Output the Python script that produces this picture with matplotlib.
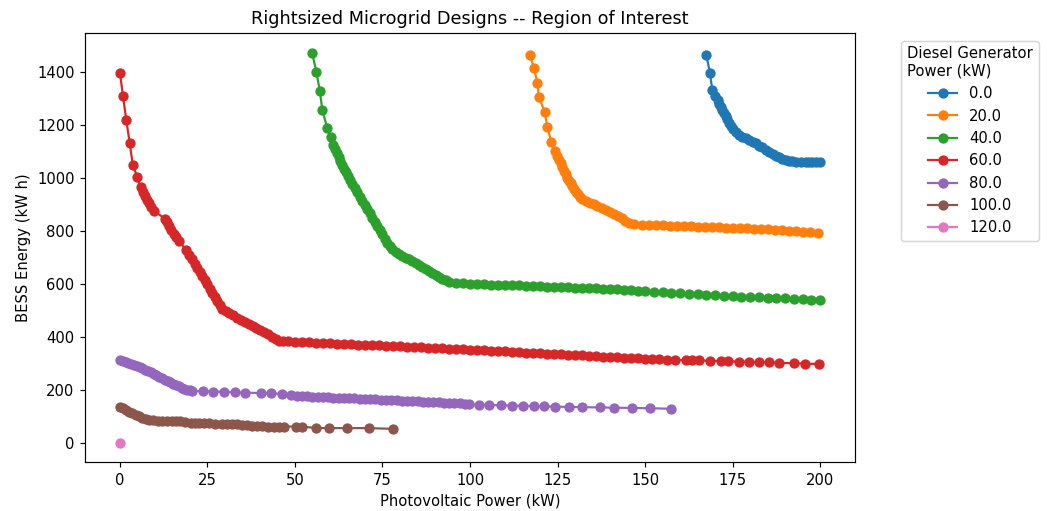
import matplotlib
matplotlib.use("Agg")
import matplotlib.pyplot as plt

# diesel generator sizes (kW), one curve per size
dg_power = [0.0, 20.0, 40.0, 60.0, 80.0, 100.0, 120.0]

# photovoltaic power (kW) / BESS energy (kW h)
pv_0 = [167.5, 168.5, 169.2, 170.0, 170.7, 171.2, 171.6, 172.1, 172.6, 173.1, 173.5, 174.0,
        174.5, 175.2, 175.9, 176.8, 177.8, 178.8, 179.7, 180.7, 181.6, 182.6, 183.5, 184.5,
        185.4, 186.4, 187.3, 188.3, 189.2, 190.2, 191.1, 192.0, 193.2, 194.5, 195.9, 196.8,
        197.8, 198.9, 200.0]
bess_0 = [1464, 1396, 1332, 1310, 1294, 1280, 1266, 1256, 1245, 1234, 1222, 1208,
          1194, 1183, 1172, 1163, 1155, 1149, 1143, 1137, 1130, 1122, 1115, 1106,
          1098, 1090, 1083, 1077, 1071, 1066, 1062, 1062, 1061, 1060, 1060, 1060,
          1060, 1060, 1061]

pv_20 = [117.1, 118.3, 119.2, 119.7, 121.3, 122.1, 123.2, 124.2, 124.9, 125.4, 125.9, 126.4,
         126.9, 127.4, 127.8, 128.3, 128.8, 129.2, 129.7, 130.3, 130.9, 131.5, 132.1, 133.2,
         134.3, 135.4, 136.4, 137.6, 138.8, 139.9, 141.1, 142.2, 143.3, 144.4, 145.4, 146.9,
         149.0, 151.0, 153.0, 155.0, 157.0, 159.0, 161.0, 163.0, 165.0, 167.0, 169.0, 171.0,
         173.0, 175.0, 177.0, 179.0, 181.0, 183.0, 185.0, 187.0, 189.0, 191.0, 193.0, 195.0,
         197.0, 199.5]
bess_20 = [1462, 1414, 1358, 1304, 1250, 1191, 1136, 1102, 1081, 1068, 1056, 1041,
           1027, 1014, 1001, 990, 980, 968, 957, 947, 938, 928, 919, 913,
           907, 901, 894, 887, 879, 871, 863, 855, 847, 839, 831, 825,
           824, 823, 822, 821, 820, 819, 818, 817, 816, 815, 814, 813,
           812, 811, 810, 809, 808, 807, 806, 805, 803, 801, 799, 797,
           794, 791]

pv_40 = [54.9, 56.1, 57.1, 57.8, 59.2, 60.2, 60.9, 61.5, 62.1, 62.6, 63.0, 63.5,
         64.0, 64.6, 65.2, 65.8, 66.4, 67.1, 67.8, 68.5, 69.2, 69.9, 70.7, 71.4,
         72.1, 72.8, 73.5, 74.2, 74.9, 75.6, 76.4, 77.1, 77.8, 78.8, 79.7, 80.7,
         81.6, 82.6, 83.5, 84.5, 85.4, 86.4, 87.3, 88.3, 89.2, 90.2, 91.1, 92.1,
         93.0, 94.0, 95.9, 98.0, 100.0, 102.0, 104.0, 106.0, 108.0, 110.0, 112.0, 114.0,
         116.0, 118.0, 120.0, 122.0, 124.0, 126.0, 128.0, 130.0, 132.0, 134.0, 136.0, 138.0,
         140.0, 142.0, 144.0, 146.0, 148.0, 150.0, 152.5, 155.0, 157.5, 160.0, 162.5, 165.0,
         167.5, 170.0, 172.5, 175.0, 177.5, 180.0, 182.5, 185.0, 187.5, 190.0, 192.5, 195.0,
         197.5, 200.0]
bess_40 = [1472, 1401, 1328, 1257, 1188, 1153, 1124, 1108, 1093, 1078, 1064, 1050,
           1035, 1022, 1008, 992, 976, 960, 945, 929, 913, 898, 882, 866,
           850, 834, 818, 803, 787, 771, 756, 743, 730, 720, 711, 705,
           698, 692, 686, 678, 670, 663, 655, 648, 641, 634, 627, 620,
           614, 607, 604, 602, 600, 599, 598, 597, 597, 596, 595, 594,
           593, 592, 591, 590, 589, 588, 587, 586, 585, 584, 583, 582,
           580, 579, 578, 576, 574, 573, 571, 569, 567, 565, 563, 561,
           559, 557, 555, 553, 552, 551, 549, 548, 546, 545, 543, 542,
           541, 541]

pv_60 = [0.0, 0.9, 1.8, 2.8, 3.7, 4.9, 5.9, 6.6, 7.1, 7.7, 8.3, 9.0,
         9.7, 12.9, 13.5, 14.0, 14.7, 15.4, 16.1, 16.9, 18.9, 19.6, 20.7, 21.4,
         22.1, 22.8, 23.5, 24.2, 24.9, 25.6, 26.4, 27.1, 27.8, 28.5, 29.2, 30.2,
         31.3, 32.4, 33.5, 34.6, 35.7, 36.8, 37.9, 39.0, 40.1, 41.2, 42.3, 43.4,
         44.5, 45.4, 46.5, 48.0, 50.0, 52.0, 54.0, 56.0, 58.0, 60.0, 62.0, 64.0,
         66.0, 68.0, 70.0, 72.0, 74.0, 76.0, 78.0, 80.0, 82.0, 84.0, 86.0, 88.0,
         90.0, 92.0, 94.0, 96.0, 98.0, 100.0, 102.0, 104.0, 106.0, 108.0, 110.0, 112.0,
         114.0, 116.0, 118.0, 120.0, 122.0, 124.0, 126.0, 128.0, 130.0, 132.0, 134.0, 136.0,
         138.0, 140.0, 142.0, 144.0, 146.0, 148.0, 150.0, 152.0, 154.0, 156.4, 158.6, 161.6,
         163.5, 165.4, 168.5, 171.6, 173.8, 176.7, 179.7, 182.6, 185.4, 188.3, 192.6, 195.7,
         199.7]
bess_60 = [1396, 1308, 1220, 1131, 1048, 1005, 964, 948, 932, 918, 904, 890,
           875, 846, 832, 818, 803, 787, 775, 762, 728, 710, 692, 676,
           661, 645, 629, 614, 598, 582, 566, 551, 535, 520, 506, 496,
           489, 481, 473, 465, 458, 450, 442, 434, 426, 418, 410, 401,
           392, 385, 384, 383, 382, 381, 380, 378, 377, 376, 375, 374,
           373, 371, 370, 369, 368, 367, 366, 364, 363, 362, 361, 360,
           358, 357, 356, 355, 354, 352, 351, 349, 348, 347, 345, 344,
           342, 341, 340, 338, 337, 336, 334, 333, 332, 330, 329, 327,
           326, 325, 323, 322, 321, 319, 317, 316, 315, 314, 313, 312,
           311, 311, 310, 309, 308, 307, 306, 305, 304, 302, 301, 299,
           298]

pv_80 = [0.0, 0.8, 1.6, 2.4, 3.2, 4.0, 4.8, 5.6, 6.4, 7.2, 8.0, 8.8,
         9.6, 10.4, 11.2, 12.0, 12.8, 13.6, 14.4, 15.2, 16.0, 16.8, 17.6, 18.4,
         19.2, 20.0, 20.5, 23.8, 26.7, 29.8, 32.9, 35.8, 40.2, 43.2, 46.2, 49.0,
         50.5, 52.0, 53.5, 55.0, 56.5, 58.0, 59.5, 61.0, 62.5, 64.0, 65.5, 67.0,
         68.5, 70.0, 71.5, 73.0, 74.5, 76.0, 77.5, 79.0, 80.5, 82.0, 83.5, 85.0,
         86.5, 88.0, 89.5, 91.0, 92.5, 94.0, 95.5, 97.0, 98.5, 99.7, 102.6, 105.4,
         108.8, 112.1, 115.1, 118.3, 121.1, 124.3, 128.3, 131.9, 137.1, 141.1, 146.4, 151.3,
         157.3]
bess_80 = [314, 310, 306, 302, 298, 294, 290, 286, 281, 276, 271, 266,
           261, 256, 250, 245, 239, 234, 229, 224, 219, 214, 209, 205,
           201, 198, 197, 195, 194, 193, 191, 190, 188, 187, 185, 179,
           178, 177, 176, 175, 174, 173, 172, 171, 170, 169, 168, 168,
           167, 166, 165, 164, 163, 162, 161, 161, 160, 159, 158, 157,
           156, 155, 154, 153, 152, 151, 150, 149, 147, 146, 144, 143,
           142, 141, 140, 139, 138, 137, 136, 135, 134, 133, 132, 131,
           129]

pv_100 = [0.0, 0.8, 1.6, 2.6, 3.5, 4.5, 5.4, 6.4, 7.4, 8.3, 9.5, 10.8,
          12.1, 13.5, 15.0, 16.1, 17.3, 18.7, 20.2, 21.4, 22.6, 24.0, 25.4, 27.3,
          29.2, 30.6, 32.1, 33.5, 34.9, 36.3, 37.8, 39.2, 40.7, 42.3, 44.0, 45.4,
          46.9, 50.2, 51.9, 56.1, 59.7, 64.9, 71.1, 78.1]
bess_100 = [137, 131, 125, 118, 112, 106, 100, 95, 91, 87, 85, 84,
            84, 83, 83, 82, 81, 79, 77, 77, 77, 75, 74, 73,
            72, 72, 72, 70, 68, 66, 64, 64, 64, 62, 62, 62,
            62, 62, 62, 56, 56, 56, 56, 53]

pv_120 = [0.0]
bess_120 = [0]

pv_series = [pv_0, pv_20, pv_40, pv_60, pv_80, pv_100, pv_120]
bess_series = [bess_0, bess_20, bess_40, bess_60, bess_80, bess_100, bess_120]

dpi = 106
fig, ax = plt.subplots(figsize=(1048 / dpi, 511 / dpi), dpi=dpi)
fig.subplots_adjust(left=0.081, right=0.816, top=0.935, bottom=0.095)

for dg, pv, bess in zip(dg_power, pv_series, bess_series):
    ax.plot(pv, bess, marker='o', label=str(dg))

ax.set_title("Rightsized Microgrid Designs -- Region of Interest")
ax.set_xlabel("Photovoltaic Power (kW)")
ax.set_ylabel("BESS Energy (kW h)")
ax.legend(title="Diesel Generator\nPower (kW)", bbox_to_anchor=(1.05, 1), loc='upper left')

fig.savefig("out.png", dpi=dpi)
